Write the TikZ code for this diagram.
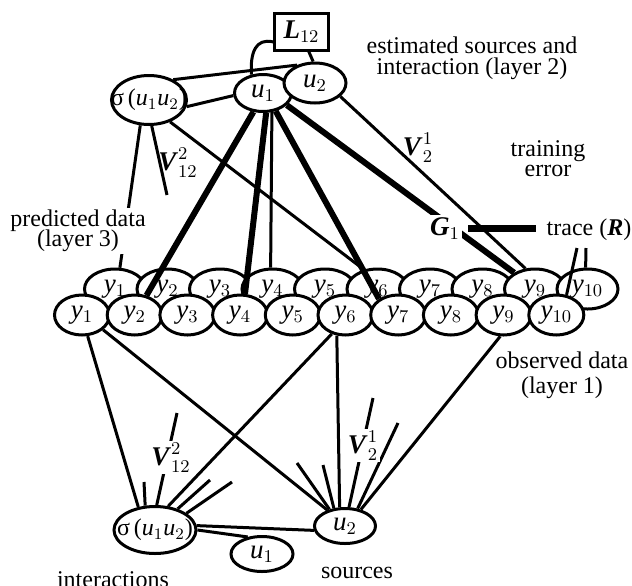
\documentclass[tikz,border=0pt]{standalone}
\usepackage{fontspec}
\setmainfont{Liberation Serif}
\usetikzlibrary{shapes.geometric}
\pgfdeclarelayer{front}
\pgfsetlayers{main,front}
\newcommand{\vsub}[2]{\textit{#1}$_{#2}$}
\newcommand{\bsub}[3]{\textbf{\textit{#1}}$^{#2}_{#3}$}
\tikzset{
  unit/.style={draw, ellipse, fill=white, line width=1.5pt, inner sep=0pt, font=\fontsize{13.5}{15}\selectfont},
  wire/.style={line width=1.5pt},
  heavywire/.style={line width=3pt},
  gbar/.style={line width=3.5pt, shorten <=3pt, shorten >=4pt},
  txt/.style={font=\fontsize{12}{10}\selectfont, align=center, inner sep=1pt, execute at begin node={\lineskiplimit=-6pt\relax}},
  sym/.style={font=\fontsize{13.5}{15}\selectfont, inner sep=1pt},
  siglabel/.style={sym, font=\fontsize{12}{14}\selectfont}
}
\begin{document}
\begin{tikzpicture}[x=0.5pt, y=-0.5pt]
\useasboundingbox (0,0) rectangle (632,585);

\node[draw, line width=1.5pt, fill=white, sym, inner sep=0pt, minimum width=27pt, minimum height=18.5pt] (L12) at (301.5,31.5) {\textbf{\textit{L}}$_{12}$};
\node[unit, minimum width=37.5pt, minimum height=24.5pt, label={[siglabel]center:σ\,(\vsub{u}{1}\vsub{u}{2})}] (ts) at (149,100) {};
\node[unit, minimum width=28.5pt, minimum height=18.5pt] (tu1) at (263,93) {\vsub{u}{1}};
\node[unit, minimum width=31pt, minimum height=20pt] (tu2) at (315,83) {\vsub{u}{2}};

\foreach \i in {1,...,10}
  \node[unit, minimum width=30.5pt, minimum height=20pt] (p\i) at ({115+52.5*(\i-1)},289) {\vsub{y}{\i}};

\node[unit, minimum width=41pt, minimum height=23.5pt, label={[siglabel]center:σ\,(\vsub{u}{1}\vsub{u}{2})}] (bs) at (155,530) {};
\node[unit, minimum width=31pt, minimum height=17.5pt] (bu1) at (262,554) {\vsub{u}{1}};
\node[unit, minimum width=30.5pt, minimum height=17.5pt] (bu2) at (345,526) {\vsub{u}{2}};

\begin{pgfonlayer}{front}
\foreach \i in {1,...,10}
  \node[unit, minimum width=27.5pt, minimum height=20pt] (o\i) at ({82+52.7*(\i-1)},315) {\vsub{y}{\i}};
\node[sym, fill=white, anchor=base] (G1) at (445,235) {\textbf{\textit{G}}$_1$};
\node[txt, fill=white] (pred) at (78,231) {predicted data\\(layer 3)};
\node[sym, fill=white, anchor=base] (V12b) at (171,465) {\bsub{V}{2}{12}};
\node[sym, fill=white, anchor=base] (V2b) at (363,453) {\bsub{V}{1}{2}};
\end{pgfonlayer}

\node[txt, font=\fontsize{12}{10.5}\selectfont] (est) at (472,58) {estimated sources and\\interaction (layer 2)};
\node[txt] (train) at (548,159) {training\\error};
\node[txt, font=\fontsize{12}{12.5}\selectfont] (obs) at (562,375) {observed data\\(layer 1)};
\node[txt, anchor=base] (trace) at (589,235) {trace (\textbf{\textit{R}})};
\node[txt, anchor=base] (src) at (357,578) {sources};
\node[txt, anchor=base] (inter) at (113,587) {interactions};
\node[sym, anchor=base] (V12t) at (178,170) {\bsub{V}{2}{12}};
\node[sym, anchor=base] (V2t) at (418,155) {\bsub{V}{1}{2}};

\coordinate (ts stub) at (167,195);
\coordinate (o10 stub) at (577,248);
\coordinate (p10 stub) at (586,248);
\coordinate (bs stub1) at (144,482);
\coordinate (bs stub2) at (177,413);
\coordinate (bs stub3) at (210,480);
\coordinate (bs stub4) at (232,482);
\coordinate (bu2 stub1) at (297,463);
\coordinate (bu2 stub2) at (323,465);
\coordinate (bu2 stub3) at (373,398);
\coordinate (bu2 stub4) at (398,423);

\draw[wire] (L12.200) .. controls (256,38) and (250,52) .. (tu1.122);
\draw[wire] (L12.-70) -- (tu2.95);
\draw[wire] (ts.40) -- (tu2.135);
\draw[wire] (ts.-10) -- (tu1.185);
\draw[wire] (ts.-109) -- (p1.77);
\draw[wire] (ts.-84) -- (ts stub);
\draw[wire] (ts.-46) -- (p6.125);
\draw[heavywire] (tu1.-117) -- (o2.59);
\draw[heavywire] (tu1.-81) -- (o4.77);
\draw[wire] (tu1.-65) -- (p4.95);
\draw[heavywire] (tu1.-55) -- (o7.140);
\draw[heavywire] (tu1.-27) -- (p9.142);
\draw[wire] (tu2.-28) -- (p9.115);
\draw[wire] (o10.63) -- (o10 stub);
\draw[wire] (p10.95) -- (p10 stub);
\draw[gbar] (G1.east) -- (G1.east -| trace.west);

\draw[wire] (o1.-75) -- (bs.126);
\draw[wire] (o1.-35) -- (bu2.138);
\draw[wire] (o6.-126) -- (bs.61);
\draw[wire] (o6.-113) -- (bu2.106);
\draw[wire] (o9.-99) -- (bu2.46);
\draw[wire] (bs.6) -- (bu2.188);
\draw[wire] (bs.0) -- (bu1.130);
\draw[wire] (bs.112) -- (bs stub1);
\draw[wire] (bs.86) -- (bs stub2);
\draw[wire] (bs.43) -- (bs stub3);
\draw[wire] (bs.28) -- (bs stub4);
\draw[wire] (bu2.133) -- (bu2 stub1);
\draw[wire] (bu2.122) -- (bu2 stub2);
\draw[wire] (bu2.78) -- (bu2 stub3);
\draw[wire] (bu2.54) -- (bu2 stub4);
\end{tikzpicture}
\end{document}
